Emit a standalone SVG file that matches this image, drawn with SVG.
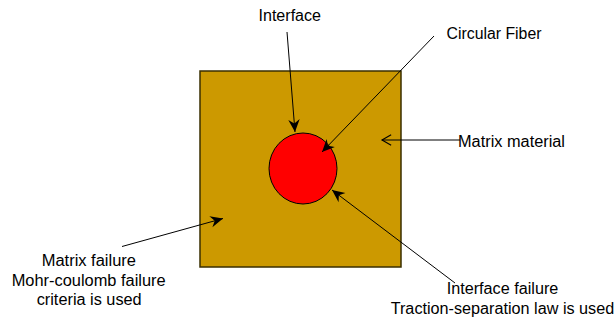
<svg xmlns="http://www.w3.org/2000/svg" width="615" height="322" viewBox="0 0 615 322">
<style>
text{font-family:"Liberation Sans",Arial,sans-serif;font-size:16px;fill:#000}
.c{stroke:#000;stroke-width:1;fill:none}
</style>
<defs>
<marker id="ah" markerUnits="userSpaceOnUse" markerWidth="16" markerHeight="16" viewBox="-12 -6 14 12" refX="0" refY="0" orient="auto">
<path d="M0,0 L-11,-5 L-7.5,0 L-11,5 Z" fill="#000"/>
</marker>
<marker id="oh" markerUnits="userSpaceOnUse" markerWidth="16" markerHeight="16" viewBox="-12 -6 14 12" refX="0" refY="0" orient="auto">
<path d="M-8,-4.5 L0,0 L-8,4.5" fill="none" stroke="#000" stroke-width="1"/>
</marker>
</defs>
<rect width="615" height="322" fill="#fff"/>
<g id="matrix">
<rect x="200" y="71" width="201" height="196" fill="#CC9900" stroke="#3a2f00" stroke-width="1.5"/>
</g>
<g id="fiber">
<ellipse cx="303" cy="168.5" rx="34" ry="35.5" fill="#FF0000" stroke="#000" stroke-width="1"/>
</g>
<g id="connectors">
<line class="c" x1="287" y1="32" x2="295" y2="132" marker-end="url(#ah)"/>
<line class="c" x1="434" y1="36" x2="322" y2="152" marker-end="url(#ah)"/>
<line class="c" x1="460" y1="140" x2="382" y2="140" marker-end="url(#oh)"/>
<line class="c" x1="122" y1="246.5" x2="223" y2="218.5" marker-end="url(#ah)"/>
<line class="c" x1="455" y1="283" x2="332" y2="190" marker-end="url(#ah)"/>
</g>
<g id="label-interface">
<text x="258.5" y="20.7" textLength="62.5" lengthAdjust="spacingAndGlyphs">Interface</text>
</g>
<g id="label-circular-fiber">
<text x="446.5" y="39" textLength="95" lengthAdjust="spacingAndGlyphs">Circular Fiber</text>
</g>
<g id="label-matrix-material">
<text x="458" y="146.5" textLength="107" lengthAdjust="spacingAndGlyphs">Matrix material</text>
</g>
<g id="label-matrix-failure">
<text x="41.7" y="266" textLength="94.3" lengthAdjust="spacingAndGlyphs">Matrix failure</text>
<text x="11.7" y="286" textLength="154" lengthAdjust="spacingAndGlyphs">Mohr-coulomb failure</text>
<text x="36.7" y="305" textLength="105" lengthAdjust="spacingAndGlyphs">criteria is used</text>
</g>
<g id="label-interface-failure">
<text x="446.7" y="293.5" textLength="111.6" lengthAdjust="spacingAndGlyphs">Interface failure</text>
<text x="390.7" y="314" textLength="223.5" lengthAdjust="spacingAndGlyphs">Traction-separation law is used</text>
</g>
</svg>
